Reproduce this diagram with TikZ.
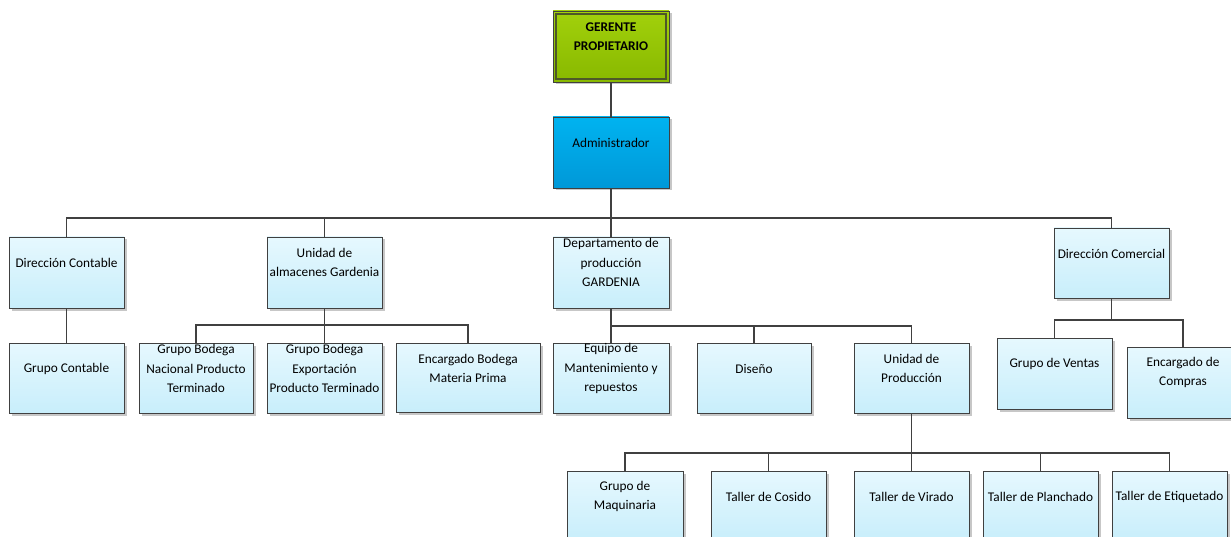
\documentclass[tikz,border=0pt]{standalone}
\usepackage{fontspec}
\setmainfont{Carlito}
\usetikzlibrary{fit,shadows}

\definecolor{linegray}{HTML}{404040}
\definecolor{boxtop}{HTML}{E6F8FE}
\definecolor{boxbot}{HTML}{C8EEFB}
\definecolor{greentop}{HTML}{A2D10B}
\definecolor{greenbot}{HTML}{88B800}
\definecolor{greenline}{HTML}{4E5828}
\definecolor{bluetop}{HTML}{00B3F0}
\definecolor{bluebot}{HTML}{0098D8}

% one box of the chart: style, name, corners (x1,y1) (x2,y2), label
\newcommand\orgunit[7]{%
  \node[#1, fit={(#3,#4) (#5,#6)}] (#2) {};
  \node[txt] (#2-t) at ([yshift=-26pt]#2.north) {#7};
}

\begin{document}
\begin{tikzpicture}[x=1pt,y=-1pt,
  conn/.style={draw=linegray, line width=1.8pt},
  shadowed/.style={drop shadow={shadow xshift=2.5pt, shadow yshift=-2.5pt,
      fill=black, opacity=0.22}},
  unit/.style={draw=linegray, line width=0.9pt, inner sep=0pt,
      top color=boxtop, bottom color=boxbot, shadowed},
  ownerbox/.style={draw=linegray, line width=0.9pt, inner sep=0pt,
      top color=greentop, bottom color=greenbot, shadowed},
  adminbox/.style={draw=linegray, line width=0.9pt, inner sep=0pt,
      top color=bluetop, bottom color=bluebot, shadowed},
  txt/.style={align=center, inner sep=0pt,
      font=\fontsize{13.3}{19.5}\selectfont}]

\useasboundingbox[fill=white] (0,0) rectangle (1231,537);

% bus levels
\coordinate (busmain) at (0,218);
\coordinate (busalm)  at (0,325);
\coordinate (busdep)  at (0,326);
\coordinate (buscom)  at (0,320);
\coordinate (busupr)  at (0,453);

% top of the chart
\orgunit{ownerbox}{ger}{553}{11}{669}{82}{\textbf{GERENTE}\\\textbf{PROPIETARIO}}
\draw[draw=greenline, line width=1.2pt]
  ([shift={(3.5pt,-3.5pt)}]ger.north west) rectangle ([shift={(-3.5pt,3.5pt)}]ger.south east);
\orgunit{adminbox}{adm}{553}{117}{669}{188}{Administrador}

% second level
\orgunit{unit}{dcont}{9}{237}{124}{308}{Dirección Contable}
\orgunit{unit}{alm}{267}{237}{382}{308}{Unidad de\\almacenes Gardenia}
\orgunit{unit}{dep}{553}{237}{669}{308}{Departamento de\\producción\\GARDENIA}
\orgunit{unit}{dcom}{1054}{228}{1169}{298}{Dirección Comercial}

% third level
\orgunit{unit}{gcont}{9}{343}{124}{413}{Grupo Contable}
\orgunit{unit}{gbn}{139}{343}{253}{413}{Grupo Bodega\\Nacional Producto\\Terminado}
\orgunit{unit}{gbe}{267}{343}{382}{413}{Grupo Bodega\\Exportación\\Producto Terminado}
\orgunit{unit}{ebmp}{396}{343}{540}{412}{Encargado Bodega\\Materia Prima}
\orgunit{unit}{equ}{553}{343}{669}{413}{Equipo de\\Mantenimiento y\\repuestos}
\orgunit{unit}{dis}{697}{343}{811}{413}{Diseño}
\orgunit{unit}{upr}{854}{343}{969}{413}{Unidad de\\Producción}
\orgunit{unit}{gven}{997}{338}{1112}{409}{Grupo de Ventas}
\orgunit{unit}{ecom}{1127}{347}{1239}{418}{Encargado de\\Compras}

% production workshops
\orgunit{unit}{gmaq}{567}{471}{683}{541}{Grupo de\\Maquinaria}
\orgunit{unit}{tcos}{711}{471}{826}{541}{Taller de Cosido}
\orgunit{unit}{tvir}{854}{471}{969}{541}{Taller de Virado}
\orgunit{unit}{tpla}{983}{471}{1098}{541}{Taller de Planchado}
\orgunit{unit}{teti}{1112}{471}{1227}{541}{Taller de Etiquetado}

% connectors
\draw[conn] (ger.south) -- (adm.north);
\draw[conn] (adm.south) -- (dep.north);
\draw[conn] (adm.south |- busmain) -| (dcont.north);
\draw[conn] (adm.south |- busmain) -| (alm.north);
\draw[conn] (adm.south |- busmain) -| (dcom.north);

\draw[conn] (dcont.south) -- (gcont.north);

\draw[conn] (alm.south) -- (gbe.north);
\draw[conn] (alm.south |- busalm) -| (gbn.north);
\draw[conn] (alm.south |- busalm) -| (ebmp.north);

\draw[conn] (dep.south) -- (equ.north);
\draw[conn] (dep.south |- busdep) -| (dis.north);
\draw[conn] (dep.south |- busdep) -| (upr.north);

\draw[conn] (dcom.south) -- (dcom.south |- buscom);
\draw[conn] (dcom.south |- buscom) -| (gven.north);
\draw[conn] (dcom.south |- buscom) -| (ecom.north);

\draw[conn] (upr.south) -- (tvir.north);
\draw[conn] (upr.south |- busupr) -| (gmaq.north);
\draw[conn] (upr.south |- busupr) -| (tcos.north);
\draw[conn] (upr.south |- busupr) -| (tpla.north);
\draw[conn] (upr.south |- busupr) -| (teti.north);

\end{tikzpicture}
\end{document}
